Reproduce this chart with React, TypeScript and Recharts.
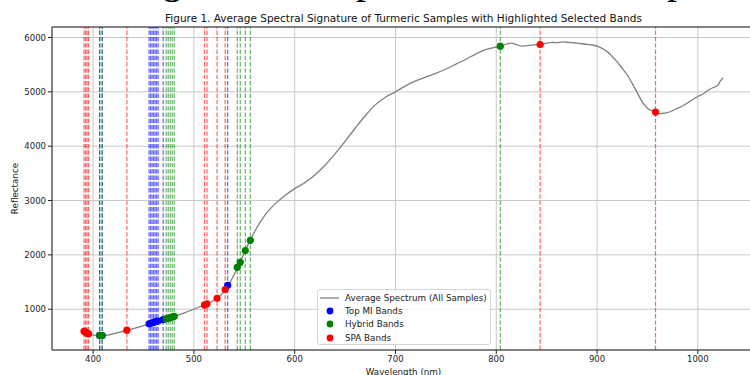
import React from "react";
import {
  ComposedChart,
  Line,
  Scatter,
  XAxis,
  YAxis,
  CartesianGrid,
  ReferenceLine,
  Legend,
} from "recharts";

// average spectrum
const wavelengths = [
  391, 395, 400, 405, 410, 420, 430, 434, 440, 450, 460, 470, 480, 490, 500,
  510, 520, 525, 530, 535, 540, 545, 550, 555, 560, 565, 570, 580, 590, 600,
  610, 620, 630, 640, 650, 660, 670, 680, 690, 700, 710, 720, 730, 740, 750,
  760, 770, 780, 790, 800, 805, 810, 815, 820, 825, 830, 835, 843, 850, 855,
  860, 865, 870, 875, 880, 885, 890, 895, 900, 905, 910, 915, 920, 925, 930,
  935, 940, 945, 950, 955, 958, 962, 966, 970, 975, 980, 985, 990, 995, 1000,
  1005, 1010, 1015, 1020, 1022, 1025,
];
const reflectance = [
  596, 552, 528, 518, 517, 548, 595, 614, 645, 700, 760, 812, 866, 930, 1000,
  1078, 1165, 1230, 1330, 1470, 1640, 1830, 2040, 2240, 2420, 2580, 2720, 2930,
  3090, 3220, 3330, 3470, 3650, 3860, 4090, 4330, 4560, 4760, 4900, 5000, 5110,
  5200, 5270, 5340, 5420, 5510, 5600, 5700, 5780, 5825, 5845, 5880, 5895, 5870,
  5840, 5850, 5860, 5871, 5895, 5910, 5905, 5918, 5912, 5905, 5898, 5885, 5872,
  5862, 5840, 5800, 5740, 5650, 5550, 5430, 5310, 5150, 4980, 4810, 4700, 4645,
  4627, 4600, 4608, 4618, 4655, 4700, 4740, 4800, 4860, 4915, 4960, 5030, 5075,
  5120, 5190, 5260,
];

// selected bands and the spectrum value at each
const miBands = [406.5, 409, 455.5, 457, 458.5, 460, 461.5, 463, 464.5, 469.5, 533.5];
const miValues = [518, 517, 733, 742, 751, 760, 768, 776, 784, 810, 1440];

const hybridBands = [406.5, 409, 472.5, 474.5, 476.5, 478.5, 480.5, 543, 546, 551, 556, 804];
const hybridValues = [518, 517, 825, 836, 847, 858, 869, 1772, 1864, 2080, 2268, 5840];

const spaBands = [391, 392.5, 394, 395.5, 433.5, 510.5, 513, 523, 531, 843.5, 958];
const spaValues = [595, 578, 562, 549, 614, 1080, 1100, 1200, 1362, 5871, 4627];

const xTicks = [400, 500, 600, 700, 800, 900, 1000];
const yTicks = [1000, 2000, 3000, 4000, 5000, 6000];

const legendLabels = [
  "Average Spectrum (All Samples)",
  "Top MI Bands",
  "Hybrid Bands",
  "SPA Bands",
];
const legendColors = ["#808080", "#0000ff", "#008000", "#ff0000"];

const spectrum = wavelengths.map((wl, i) => ({ wl, r: reflectance[i] }));
const toPoints = (bands: number[], vals: number[]) =>
  bands.map((wl, i) => ({ wl, r: vals[i] }));

const FONT = "DejaVu Sans, sans-serif";
const tickStyle = { fontSize: 8.5, fill: "#222", fontFamily: FONT };

const Dot = (props: any) => (
  <circle cx={props.cx} cy={props.cy} r={3.6} fill={props.fill} />
);

const LegendBox = () => (
  <div
    style={{
      width: 174,
      height: 56,
      background: "rgba(255,255,255,0.85)",
      border: "1px solid #d4d4d4",
      borderRadius: 3,
      fontFamily: FONT,
      fontSize: 8.75,
      color: "#222",
      padding: "1px 0 0 0",
      boxSizing: "border-box",
      whiteSpace: "nowrap",
    }}
  >
    {legendLabels.map((label, i) => (
      <div key={label} style={{ display: "flex", alignItems: "center", height: 13.4 }}>
        <svg width={25} height={10} style={{ marginLeft: 2, flexShrink: 0 }}>
          {i === 0 ? (
            <line x1={0} y1={5} x2={19} y2={5} stroke={legendColors[i]} strokeWidth={1.3} />
          ) : (
            <circle cx={10} cy={5} r={3.4} fill={legendColors[i]} />
          )}
        </svg>
        <span>{label}</span>
      </div>
    ))}
  </div>
);

const bandLine = (b: number, color: string, key: string) => (
  <ReferenceLine
    key={key}
    x={b}
    stroke={color}
    strokeOpacity={0.6}
    strokeWidth={1.2}
    strokeDasharray="4.4 1.9"
  />
);

export default function App() {
  return (
    <div
      style={{
        position: "fixed",
        left: 0,
        top: 0,
        width: 750,
        height: 375,
        overflow: "hidden",
        background: "#fff",
      }}
    >
      <div style={{ position: "absolute", left: 0, top: 0 }}>
        <ComposedChart
          width={780}
          height={375}
          margin={{ top: 27, right: 25, bottom: 0, left: 0 }}
        >
          <CartesianGrid stroke="#c8c8c8" strokeWidth={1} />
          <XAxis
            type="number"
            dataKey="wl"
            domain={[359.2, 1056.7]}
            ticks={xTicks}
            allowDataOverflow
            height={25}
            tickSize={4}
            tick={tickStyle}
            axisLine={{ stroke: "#222" }}
            tickLine={{ stroke: "#222" }}
          />
          <YAxis
            type="number"
            domain={[250, 6193]}
            ticks={yTicks}
            allowDataOverflow
            width={52}
            tickSize={4}
            tick={tickStyle}
            axisLine={{ stroke: "#222" }}
            tickLine={{ stroke: "#222" }}
          />
          <ReferenceLine y={6193} stroke="#222" strokeWidth={1} ifOverflow="visible" />
          {miBands.map((b, i) => bandLine(b, "#0000ff", "mi" + i))}
          {hybridBands.map((b, i) => bandLine(b, "#008000", "hy" + i))}
          {spaBands.map((b, i) => bandLine(b, "#ff0000", "spa" + i))}
          <Line
            data={spectrum}
            dataKey="r"
            type="monotone"
            stroke="#808080"
            strokeWidth={1.3}
            dot={false}
            isAnimationActive={false}
          />
          <Scatter
            data={toPoints(miBands, miValues)}
            dataKey="r"
            fill="#0000ff"
            shape={Dot}
            isAnimationActive={false}
          />
          <Scatter
            data={toPoints(hybridBands, hybridValues)}
            dataKey="r"
            fill="#008000"
            shape={Dot}
            isAnimationActive={false}
          />
          <Scatter
            data={toPoints(spaBands, spaValues)}
            dataKey="r"
            fill="#ff0000"
            shape={Dot}
            isAnimationActive={false}
          />
          <Legend
            layout="vertical"
            align="center"
            verticalAlign="middle"
            content={() => <LegendBox />}
            wrapperStyle={{ left: 317, top: 289, width: 176, height: 58 }}
          />
        </ComposedChart>
      </div>
      <svg
        width={750}
        height={375}
        style={{ position: "absolute", left: 0, top: 0, pointerEvents: "none" }}
      >
        <g fontFamily="Liberation Serif, serif" fontSize={40} fill="#000">
          <text x={162} y={-7}>g</text>
          <text x={356} y={-7}>p</text>
          <text x={667} y={-7}>p</text>
        </g>
        <text
          x={403.5}
          y={22}
          textAnchor="middle"
          fontFamily={FONT}
          fontSize={10.5}
          fill="#111"
        >
          Figure 1. Average Spectral Signature of Turmeric Samples with Highlighted Selected Bands
        </text>
        <text
          x={403.5}
          y={374.5}
          textAnchor="middle"
          fontFamily={FONT}
          fontSize={8.75}
          fill="#222"
        >
          Wavelength (nm)
        </text>
        <text
          transform="translate(18.3,188.5) rotate(-90)"
          textAnchor="middle"
          fontFamily={FONT}
          fontSize={8.75}
          fill="#222"
        >
          Reflectance
        </text>
      </svg>
    </div>
  );
}
